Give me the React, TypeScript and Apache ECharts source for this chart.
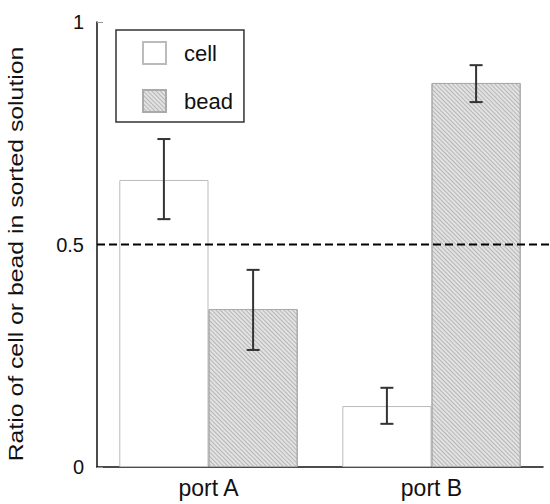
import React, { useEffect, useRef } from "react";
import * as echarts from "echarts";

const categories = ["port A", "port B"];
const seriesNames = ["cell", "bead"];
const cellValues = [0.645, 0.137];
const beadValues = [0.355, 0.863];
const cellLow = [0.557, 0.097];
const cellHigh = [0.737, 0.178];
const beadLow = [0.263, 0.82];
const beadHigh = [0.443, 0.903];
const refLine = 0.5;
const yTicks = [0, 0.5, 1];
const yTitle = "Ratio of cell or bead in sorted solution";

const FONT = "'Liberation Sans', Arial, sans-serif";

function errorRender(sign: number) {
  return (params: any, api: any) => {
    const c = api.value(0);
    const lo = api.coord([c, api.value(1)]);
    const hi = api.coord([c, api.value(2)]);
    const bw = api.size([1, 0])[0];
    const x = lo[0] + sign * bw * 0.2;
    const cap = 6.5;
    const style = { stroke: "#333", lineWidth: 2 };
    return {
      type: "group",
      children: [
        { type: "line", shape: { x1: x, y1: hi[1], x2: x, y2: lo[1] }, style },
        { type: "line", shape: { x1: x - cap, y1: hi[1], x2: x + cap, y2: hi[1] }, style },
        { type: "line", shape: { x1: x - cap, y1: lo[1], x2: x + cap, y2: lo[1] }, style },
      ],
    };
  };
}

export default function App() {
  const ref = useRef<HTMLDivElement>(null);
  useEffect(() => {
    if (!ref.current) return;
    const chart = echarts.init(ref.current, undefined, { renderer: "svg" });
    const hatch = {
      symbol: "rect",
      color: "rgba(140,140,140,0.5)",
      dashArrayX: [1, 0],
      dashArrayY: [1, 2],
      rotation: Math.PI / 4,
      symbolSize: 1,
    };
    chart.setOption({
      animation: false,
      textStyle: { fontFamily: FONT },
      grid: { left: 97, right: 7, top: 22, bottom: 37 },
      legend: {
        data: seriesNames,
        orient: "vertical",
        left: 116,
        top: 30,
        icon: "rect",
        itemWidth: 23,
        itemHeight: 22,
        itemGap: 24,
        padding: [11, 11, 9, 26],
        borderColor: "#333",
        borderWidth: 1.5,
        textStyle: { fontSize: 22, color: "#111", fontFamily: FONT, padding: [0, 0, 0, 13] },
      },
      xAxis: {
        type: "category",
        data: categories,
        axisLine: { lineStyle: { color: "#111", width: 1.5 } },
        axisTick: { inside: true, length: 9, lineStyle: { color: "#bbb" } },
        axisLabel: { fontSize: 23, color: "#111", margin: 9, fontFamily: FONT },
      },
      yAxis: {
        type: "value",
        min: yTicks[0],
        max: yTicks[yTicks.length - 1],
        interval: 0.5,
        splitLine: { show: false },
        axisLine: { show: true, lineStyle: { color: "#111", width: 1.5 } },
        axisTick: { show: true, inside: true, length: 6, lineStyle: { color: "#999" } },
        axisLabel: {
          fontSize: 20,
          color: "#111",
          margin: 13,
          fontFamily: FONT,
          formatter: (v: number) => String(v),
        },
      },
      graphic: [
        {
          type: "text",
          x: 16,
          y: 254,
          rotation: Math.PI / 2,
          scaleX: 1.24,
          z: 10,
          style: {
            text: yTitle,
            fontSize: 20,
            fontFamily: FONT,
            fill: "#111",
            align: "center",
            verticalAlign: "middle",
          },
        },
      ],
      series: [
        {
          name: seriesNames[0],
          type: "bar",
          data: cellValues,
          barGap: "0%",
          barCategoryGap: "20%",
          itemStyle: { color: "#fff", borderColor: "#bbb", borderWidth: 1 },
        },
        {
          name: seriesNames[1],
          type: "bar",
          data: beadValues,
          itemStyle: { color: "#e2e2e2", borderColor: "#aaa", borderWidth: 1, decal: hatch },
        },
        {
          name: "cellErr",
          type: "custom",
          renderItem: errorRender(-1),
          data: categories.map((_, i) => [i, cellLow[i], cellHigh[i]]),
          z: 5,
        },
        {
          name: "beadErr",
          type: "custom",
          renderItem: errorRender(1),
          data: categories.map((_, i) => [i, beadLow[i], beadHigh[i]]),
          z: 5,
        },
      ],
    });
    const y = chart.convertToPixel({ yAxisIndex: 0 }, refLine) as number;
    chart.setOption({
      graphic: [
        {},
        {
          type: "line",
          z: 10,
          shape: { x1: 97, y1: y, x2: 550, y2: y },
          style: { stroke: "#000", lineWidth: 2, lineDash: [8, 4] },
        },
      ],
    });
    return () => chart.dispose();
  }, []);
  return <div ref={ref} style={{ width: 550, height: 504, position: "absolute", left: 0, top: 0 }} />;
}
